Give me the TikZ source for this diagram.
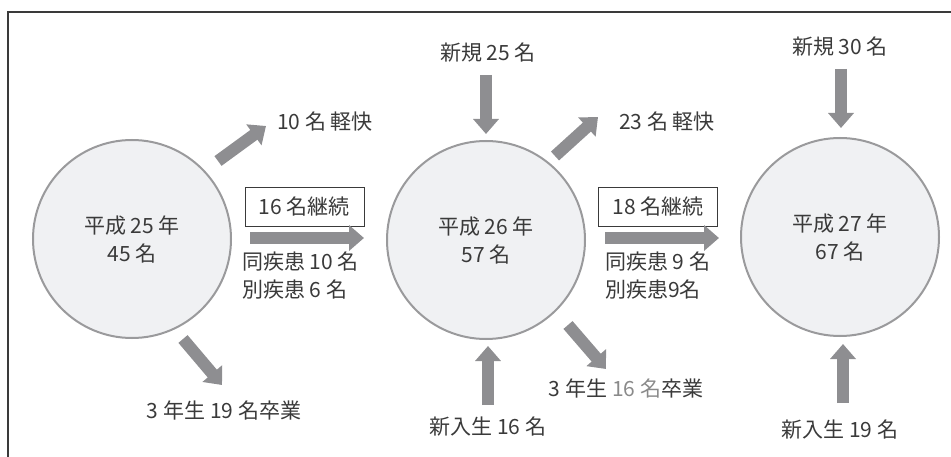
\documentclass[tikz,border=0pt]{standalone}
\usepackage{fontspec}
\setmainfont{Noto Sans CJK JP}
\usetikzlibrary{arrows.meta}
\definecolor{txt}{HTML}{3A3A3A}
\definecolor{arr}{HTML}{8E8E91}
\definecolor{ring}{HTML}{9A9A9C}
\definecolor{cfill}{HTML}{F0F1F3}
\definecolor{light}{HTML}{8A8A8A}
\begin{document}
\begin{tikzpicture}[x=1pt,y=-1pt,
  lbl/.style={font=\fontsize{21}{28}\selectfont, text=txt, inner sep=0pt, align=center},
  lbll/.style={lbl, align=left, anchor=west},
  year/.style={circle, draw=ring, line width=2pt, fill=cfill, minimum size=198pt, inner sep=0pt},
  flow/.style={draw=arr, line width=12pt, -{Triangle[length=15pt,width=25pt]}},
  keep/.style={draw=txt, line width=0.9pt, fill=white, minimum width=119pt, minimum height=39pt, inner sep=0pt, font=\fontsize{21}{24}\selectfont, text=txt}
]
\useasboundingbox (0,0) rectangle (951,457);
\draw[txt, line width=1.2pt] (951,12) -- (8,12) -- (8,457);

% circles
\node[year] (c1) at (132,239) {};
\node[year] (c2) at (486,240) {};
\node[year] (c3) at (840,237) {};
\node[lbl] (t1) at (132,239) {平成 25 年\\45 名};
\node[lbl] (t2) at (486,240) {平成 26 年\\57 名};
\node[lbl] (t3) at (840,237) {平成 27 年\\67 名};

% labels
\node[lbl] (r1) at (325,122) {10 名 軽快};
\node[lbl] (g1) at (224,410) {3 年生 19 名卒業};
\node[lbl] (n2) at (488,53) {新規 25 名};
\node[lbl] (r2) at (667,122) {23 名 軽快};
\node[lbl] (g2) at (626,388) {3 年生 {\color{light}16 名}卒業};
\node[lbl] (e2) at (488,427) {新入生 16 名};
\node[lbl] (n3) at (840,47) {新規 30 名};
\node[lbl] (e3) at (840,430) {新入生 19 名};

\node[keep] (k1) at (304.5,207) {16 名継続};
\node[keep] (k2) at (658,207) {18 名継続};
\node[lbll] (d1) at (242,276) {同疾患 10 名\\別疾患 6 名};
\node[lbll] (d2) at (605,276) {同疾患 9 名\\別疾患9名};

% arrow end points
\coordinate (a1s) at (218,161); \coordinate (a1e) at (266,126);
\coordinate (b1s) at (183,339); \coordinate (b1e) at (222,385);
\coordinate (h1s) at (250,238); \coordinate (h1e) at (364,238);
\coordinate (n2s) at (486,75);  \coordinate (n2e) at (486,134);
\coordinate (a2s) at (555,156); \coordinate (a2e) at (598,117);
\coordinate (h2s) at (605,238); \coordinate (h2e) at (719,238);
\coordinate (b2s) at (568,325); \coordinate (b2e) at (606,369);
\coordinate (e2s) at (488,405); \coordinate (e2e) at (488,346);
\coordinate (n3s) at (841,69);  \coordinate (n3e) at (841,128);
\coordinate (e3s) at (843,403); \coordinate (e3e) at (843,344);

\foreach \p in {a1,b1,h1,n2,a2,h2,b2,e2,n3,e3}
  \draw[flow] (\p s) -- (\p e);
\end{tikzpicture}
\end{document}
